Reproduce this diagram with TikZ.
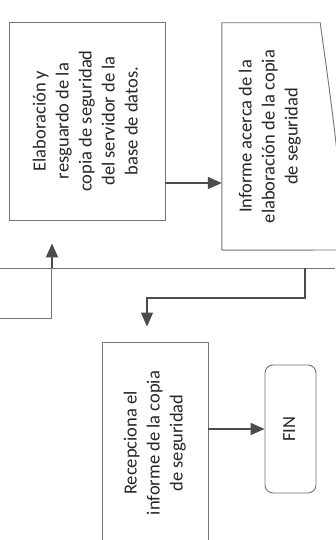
\documentclass[tikz,border=0pt]{standalone}
\usepackage{fontspec}
\setmainfont{Carlito}
\usepackage{graphicx}
\usepackage{tikz}
\usetikzlibrary{arrows.meta,positioning,calc}
\newcommand{\vtext}[1]{\rotatebox{90}{\begin{tabular}{@{}c@{}}#1\end{tabular}}}
\tikzset{
  procbox/.style={draw=black!55, line width=0.9pt, rectangle, inner sep=0pt, text=black!85, font=\fontsize{18.5}{23}\selectfont},
  docbox/.style={rectangle, inner sep=0pt, text=black!85, font=\fontsize{18.5}{23}\selectfont},
  endbox/.style={draw=black!55, line width=0.9pt, rectangle, rounded corners=8pt, inner sep=0pt, text=black!85, font=\fontsize{18.5}{23}\selectfont},
  lane/.style={draw=black!55, line width=1pt},
  arrow/.style={-{Triangle[length=14pt,width=12pt]}, line width=1.6pt, draw=black!70}
}
\begin{document}
\begin{tikzpicture}[x=1pt,y=-1pt]
  \useasboundingbox[fill=white] (0,0) rectangle (335,540);
  % lane divider
  \coordinate (laneW) at (0,268);
  \coordinate (laneE) at (335,268);
  \draw[lane] (laneW) -- (laneE);
  \coordinate (split) at (305,268);
  % nodes
  \node[procbox, minimum width=150pt, minimum height=50pt, anchor=north east] (prev) at (52,268) {};
  \node[procbox, minimum width=156pt, minimum height=198pt] (elab) at (87,121)
    {\vtext{Elaboración y\\resguardo de la\\copia de seguridad\\del servidor de la\\base de datos.}};
  \node[docbox, minimum width=96pt, minimum height=227pt] (inf) at (270,136.5)
    {\vtext{Informe acerca de la\\elaboración de la copia\\de seguridad}};
  \draw[draw=black!55, line width=0.9pt] (inf.south west) -- (inf.north west) -- ([xshift=2pt]inf.north east)
    .. controls (328,80) and (346,200) .. (342,250) -- (inf.south west);
  \node[procbox, minimum width=106pt, minimum height=202pt] (recep) at (155,443)
    {\vtext{Recepciona el\\informe de la copia\\de seguridad}};
  \node[endbox, minimum width=51pt, minimum height=128pt] (fin) at (290.5,429) {\vtext{FIN}};
  % connectors
  \draw[arrow, shorten >=23pt] (prev.north east) -- (prev.north east |- elab.south);
  \draw[arrow] ([yshift=-62pt]elab.east) -- ([yshift=-62pt]elab.east -| inf.west);
  \draw[arrow, shorten >=15pt] (split) -- ++(0,30) -| ([xshift=-8pt]recep.north);
  \draw[arrow] (recep.east |- fin.west) -- (fin.west);
\end{tikzpicture}
\end{document}
